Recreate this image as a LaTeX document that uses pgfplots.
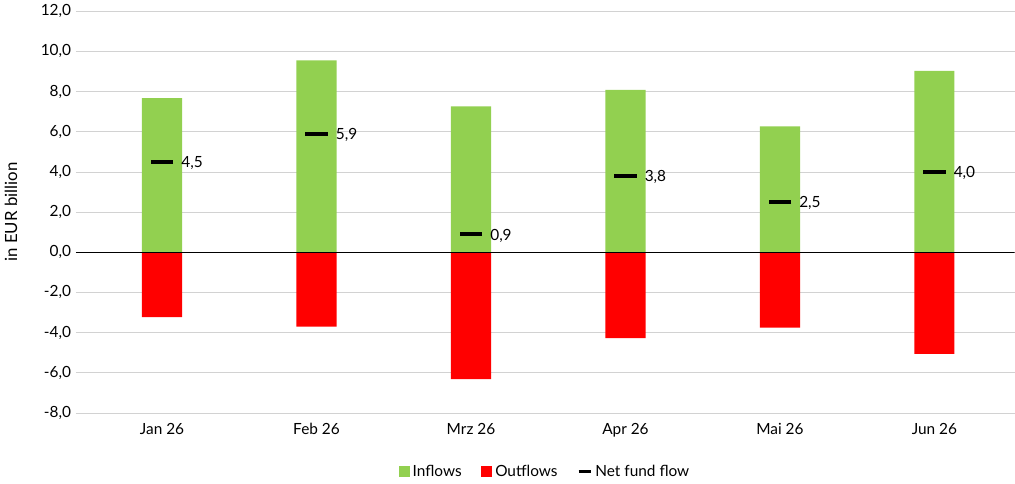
\documentclass[border=0pt]{standalone}
\usepackage{pgfplots}
\pgfplotsset{compat=1.18}
\usepackage{fontspec}
\setmainfont{Lato}
\definecolor{ingreen}{HTML}{92D050}
\definecolor{outred}{HTML}{FF0000}
\begin{document}
\begin{tikzpicture}
\begin{axis}[
  scale only axis, width=671pt, height=287pt,
  xmin=-0.557, xmax=5.52, ymin=-8, ymax=12,
  ytick={-8,-6,...,12},
  xtick={0,1,2,3,4,5},
  xticklabels={Jan 26,Feb 26,Mrz 26,Apr 26,Mai 26,Jun 26},
  xtick style={draw=none}, ytick style={draw=none},
  axis line style={draw=none},
  ymajorgrids, grid style={gray!35},
  yticklabel style={/pgf/number format/.cd,fixed,fixed zerofill,precision=1,use comma,assume math mode=true},
  ticklabel style={font=\fontsize{11}{13}\selectfont},
  xticklabel style={yshift=-4pt},
  ylabel={in EUR billion}, ylabel style={font=\fontsize{12}{14}\selectfont, yshift=10pt},
  legend style={at={(0.5,-0.115)},anchor=north,draw=none,legend columns=3,font=\fontsize{11}{13}\selectfont,/tikz/every even column/.append style={column sep=12pt}},
  legend image code/.code={\fill[#1] (0pt,-4pt) rectangle (8pt,4pt);},
]
\addplot[ybar, bar width=0.26, bar shift=0pt, fill=ingreen, draw=none] coordinates {(0,7.68)(1,9.56)(2,7.26)(3,8.09)(4,6.27)(5,9.03)};
\addlegendentry{Inflows}
\addplot[ybar, bar width=0.26, bar shift=0pt, fill=outred, draw=none] coordinates {(0,-3.24)(1,-3.71)(2,-6.32)(3,-4.28)(4,-3.76)(5,-5.07)};
\addlegendentry{Outflows}
\draw[black] (axis cs:-0.557,0) -- (axis cs:5.52,0);
\addplot[only marks, mark=-, mark size=8pt, mark options={line width=3pt, black},
  nodes near coords, point meta=explicit symbolic,
  every node near coord/.style={anchor=west, xshift=9pt, yshift=-1pt, font=\fontsize{11}{13}\selectfont},
  legend image code/.code={\draw[black, line width=2pt] (0pt,0pt) -- (9pt,0pt);}]
  coordinates {(0,4.5)[4,5] (1,5.9)[5,9] (2,0.9)[0,9] (3,3.8)[3,8] (4,2.5)[2,5] (5,4.0)[4,0]};
\addlegendentry{Net fund flow}
\end{axis}
\end{tikzpicture}
\end{document}
